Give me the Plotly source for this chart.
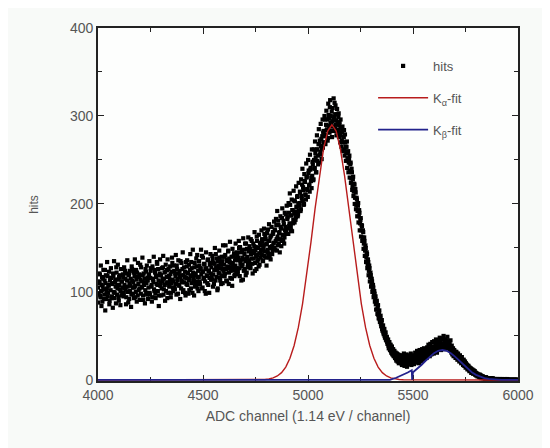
import plotly.graph_objects as go

# ---- data ----
# two interleaved sets of channels: start 4000 and 4001.5, step 3
channel_step = 3
hits_a = [
    105, 98, 112, 120, 94, 101, 108, 89, 115, 103, 97, 125, 110, 92, 104, 118, 99, 107, 86, 113,
    102, 116, 95, 109, 121, 100, 93, 111, 106, 128, 97, 104, 114, 90, 108, 119, 101, 96, 112, 105,
    117, 99, 108, 124, 103, 94, 113, 106, 88, 120, 110, 101, 115, 97, 126, 105, 111, 93, 118, 107,
    100, 114, 122, 96, 109, 117, 104, 131, 98, 112, 106, 119, 91, 108, 115, 102, 123, 110, 97, 113,
    105, 120, 99, 116, 127, 108, 94, 114, 111, 103, 125, 98, 118, 109, 132, 101, 113, 96, 121, 107,
    119, 104, 112, 128, 97, 115, 108, 123, 101, 117, 93, 111, 126, 106, 114, 120, 99, 110, 133, 105,
    112, 124, 103, 118, 109, 130, 115, 98, 121, 107, 117, 135, 104, 113, 126, 100, 119, 111, 123, 96,
    116, 129, 108, 121, 113, 102, 125, 118, 134, 110, 99, 122, 115, 128, 106, 119, 138, 112, 104, 124,
    117, 130, 109, 126, 120, 141, 105, 123, 115, 131, 112, 98, 127, 119, 136, 108, 124, 116, 133, 121,
    128, 114, 137, 120, 109, 132, 125, 143, 117, 126, 104, 130, 121, 139, 113, 127, 119, 135, 110, 124,
    131, 118, 142, 126, 137, 112, 129, 147, 122, 134, 116, 128, 140, 107, 133, 125, 144, 120, 130, 138,
    127, 141, 123, 136, 150, 118, 132, 145, 129, 139, 114, 137, 148, 126, 135, 155, 122, 140, 131, 146,
    136, 149, 127, 143, 158, 132, 145, 138, 152, 124, 147, 140, 163, 135, 150, 129, 144, 156, 139, 148,
    142, 157, 135, 153, 166, 146, 160, 139, 155, 148, 171, 143, 158, 151, 137, 164, 152, 147, 168, 156,
    150, 170, 158, 176, 147, 163, 181, 155, 168, 160, 174, 152, 184, 165, 159, 177, 162, 170, 188, 166,
    172, 185, 166, 190, 178, 199, 174, 187, 169, 193, 182, 204, 179, 191, 185, 197, 208, 186, 200, 192,
    198, 213, 194, 209, 222, 203, 216, 200, 226, 211, 205, 230, 217, 208, 235, 221, 214, 239, 226, 218,
    232, 245, 228, 250, 241, 258, 236, 262, 249, 255, 268, 247, 272, 259, 266, 251, 277, 264, 283, 270,
    279, 268, 290, 284, 296, 275, 301, 288, 310, 292, 283, 305, 294, 288, 320, 299, 286, 312, 295, 302,
    291, 284, 303, 289, 278, 296, 281, 272, 288, 270, 276, 262, 279, 265, 258, 271, 252, 260, 247, 255,
    238, 247, 229, 236, 220, 231, 214, 222, 207, 213, 199, 205, 192, 201, 186, 190, 178, 184, 170, 175,
    162, 168, 155, 158, 147, 150, 139, 143, 131, 134, 124, 127, 117, 119, 110, 112, 104, 105, 97, 98,
    92, 86, 88, 80, 82, 74, 76, 69, 70, 64, 65, 58, 60, 54, 55, 50, 51, 46, 48, 43,
    44, 39, 41, 36, 38, 33, 36, 30, 33, 28, 31, 27, 29, 24, 28, 23, 27, 21, 26, 22,
    25, 19, 24, 21, 27, 18, 23, 20, 26, 17, 22, 25, 19, 24, 21, 28, 18, 23, 20, 26,
    21, 25, 19, 27, 23, 30, 20, 26, 24, 29, 22, 31, 25, 27, 23, 32, 26, 29, 24, 33,
    27, 31, 26, 34, 30, 28, 36, 31, 33, 29, 38, 32, 35, 30, 37, 33, 40, 34, 31, 38,
    38, 42, 35, 40, 45, 37, 41, 39, 46, 36, 40, 43, 38, 44, 37, 41, 39, 36, 42, 38,
    37, 31, 34, 30, 33, 28, 32, 29, 27, 31, 25, 28, 26, 24, 27, 22, 25, 21, 23, 20,
    21, 18, 20, 16, 19, 15, 17, 13, 16, 12, 14, 11, 13, 10, 12, 9, 11, 8, 10, 7,
    8, 6, 7, 5, 6, 4, 6, 3, 5, 4, 3, 4, 2, 3, 3, 2, 3, 1, 2, 2,
    1, 2, 1, 1, 2, 0, 1, 1, 0, 1, 1, 0, 1, 0, 0, 1, 0, 0, 1, 0,
    0, 0, 1, 0, 0, 0, 0, 1, 0, 0, 0, 0, 0, 0, 0, 0, 0, 0, 0, 0,
    0, 0, 0, 0, 0, 0, 0,
]
hits_b = [
    88, 121, 110, 96, 130, 84, 117, 106, 125, 92, 113, 79, 119, 101, 134, 95, 108, 123, 90, 116,
    127, 93, 110, 82, 118, 135, 99, 114, 87, 122, 108, 131, 94, 117, 103, 85, 126, 112, 98, 120,
    95, 128, 104, 115, 86, 121, 136, 100, 119, 92, 124, 107, 83, 129, 113, 98, 122, 105, 137, 94,
    125, 89, 117, 133, 102, 120, 91, 114, 128, 105, 139, 96, 121, 111, 87, 126, 99, 130, 116, 92,
    118, 135, 97, 124, 106, 89, 129, 115, 140, 101, 122, 93, 117, 134, 108, 126, 84, 119, 137, 110,
    96, 127, 115, 141, 103, 122, 90, 131, 110, 125, 137, 99, 118, 108, 129, 94, 123, 139, 114, 101,
    130, 105, 121, 142, 97, 126, 113, 136, 108, 124, 92, 119, 133, 111, 145, 102, 128, 117, 99, 134,
    109, 136, 122, 98, 131, 115, 143, 104, 127, 119, 148, 112, 96, 133, 121, 108, 129, 142, 117, 101,
    135, 112, 127, 148, 104, 123, 139, 116, 132, 101, 126, 145, 118, 110, 137, 124, 99, 131, 143, 114,
    117, 141, 106, 133, 125, 150, 113, 128, 138, 102, 135, 122, 147, 116, 131, 109, 140, 126, 153, 118,
    140, 121, 153, 113, 135, 127, 146, 109, 138, 157, 124, 132, 115, 149, 129, 141, 118, 136, 155, 123,
    145, 120, 139, 158, 127, 151, 136, 113, 147, 131, 161, 124, 143, 155, 119, 138, 149, 128, 162, 133,
    152, 129, 160, 138, 147, 121, 155, 144, 168, 133, 151, 126, 158, 142, 137, 165, 131, 153, 146, 170,
    160, 136, 149, 172, 141, 163, 154, 130, 167, 145, 158, 177, 139, 162, 150, 174, 143, 166, 155, 180,
    171, 148, 183, 160, 192, 153, 176, 167, 145, 186, 172, 158, 195, 164, 181, 155, 190, 174, 168, 198,
    183, 166, 201, 175, 212, 187, 170, 205, 193, 178, 215, 189, 203, 182, 220, 196, 209, 188, 224, 201,
    214, 192, 228, 206, 240, 219, 199, 234, 225, 210, 246, 231, 216, 250, 238, 222, 256, 241, 230, 262,
    248, 227, 262, 240, 271, 253, 236, 278, 262, 245, 285, 268, 256, 291, 274, 262, 296, 281, 270, 300,
    296, 277, 306, 289, 272, 314, 297, 281, 318, 300, 290, 276, 309, 296, 283, 315, 302, 290, 278, 308,
    282, 299, 276, 293, 270, 287, 265, 283, 260, 276, 284, 255, 270, 249, 265, 241, 258, 236, 251, 230,
    245, 224, 240, 216, 228, 209, 223, 200, 217, 194, 207, 186, 198, 179, 193, 170, 182, 163, 176, 158,
    170, 149, 162, 141, 153, 134, 145, 127, 137, 119, 130, 112, 122, 106, 115, 100, 108, 94, 101, 89,
    95, 80, 90, 75, 85, 70, 79, 66, 73, 61, 68, 56, 62, 52, 58, 48, 54, 45, 49, 41,
    46, 36, 43, 34, 40, 31, 38, 29, 35, 27, 33, 25, 31, 22, 30, 21, 29, 19, 28, 20,
    22, 28, 17, 25, 20, 30, 16, 26, 22, 29, 15, 24, 27, 18, 25, 22, 30, 17, 27, 21,
    28, 18, 24, 31, 20, 27, 33, 22, 29, 19, 34, 26, 30, 21, 35, 28, 24, 36, 27, 31,
    34, 25, 37, 29, 40, 32, 27, 41, 35, 30, 43, 36, 31, 44, 38, 33, 46, 37, 42, 35,
    44, 36, 48, 39, 34, 47, 41, 37, 50, 40, 35, 46, 43, 38, 49, 36, 44, 40, 34, 45,
    33, 39, 29, 36, 27, 34, 31, 25, 32, 28, 23, 30, 26, 21, 28, 24, 19, 26, 22, 17,
    23, 16, 21, 14, 18, 17, 12, 15, 14, 10, 13, 12, 8, 11, 9, 7, 10, 8, 6, 8,
    5, 7, 4, 6, 5, 3, 5, 4, 2, 4, 3, 2, 3, 2, 1, 3, 1, 2, 1, 1,
    2, 1, 0, 1, 1, 0, 2, 0, 1, 0, 0, 1, 0, 1, 0, 0, 0, 1, 0, 0,
    0, 1, 0, 0, 0, 0, 0, 0, 0, 1, 0, 0, 0, 0, 0, 0, 0, 0, 0, 0,
    0, 0, 0, 0, 0, 0, 0,
]
channels_a = [4000 + channel_step * i for i in range(len(hits_a))]
channels_b = [4001.5 + channel_step * i for i in range(len(hits_b))]

ka_channels = [4000, 4774, 4794, 4814, 4834, 4854, 4874, 4894, 4914, 4934, 4954, 4974, 4994,
               5014, 5034, 5054, 5074, 5094, 5114, 5134, 5154, 5174, 5194, 5214, 5234,
               5254, 5274, 5294, 5314, 5334, 5354, 5374, 5394, 5414, 5434, 5454, 6000]
ka_fit = [0, 0.2, 0.5, 1.1, 2.3, 4.5, 8.3, 14.6, 24.6, 39.2, 59.7, 86.5, 119.2,
          156.4, 195.3, 232.2, 262.7, 282.9, 290, 282.9, 262.7, 232.2, 195.3, 156.4, 119.2,
          86.5, 59.7, 39.2, 24.6, 14.6, 8.3, 4.5, 2.3, 1.1, 0.5, 0.2, 0]

kb_channels = [4000, 5390, 5420, 5450, 5475, 5494, 5496, 5500, 5520, 5540, 5560, 5580, 5600,
               5620, 5640, 5660, 5680, 5700, 5720, 5740, 5760, 5780, 5800, 5820, 5840,
               5860, 5880, 5900, 5920, 6000]
kb_fit = [0, 0, 2.5, 5.5, 8.5, 11, 0, 8.8, 12.5, 17.0, 21.8, 26.5, 30.4,
          33.1, 34, 33.1, 30.4, 26.5, 21.8, 17.0, 12.5, 8.8, 5.8, 3.6, 2.1,
          1.2, 0.6, 0.3, 0.1, 0]

x_ticks = [4000, 4500, 5000, 5500, 6000]
y_ticks = [0, 100, 200, 300, 400]

FONT = "Liberation Sans, Arial, sans-serif"
TXT = "#555555"

fig = go.Figure()
fig.add_trace(go.Scatter(
    x=channels_a + channels_b, y=hits_a + hits_b, mode="markers", name="hits",
    marker=dict(symbol="square", size=4.2, color="black", line=dict(width=0)),
    legendgroup="a",
))
fig.add_trace(go.Scatter(
    x=ka_channels, y=ka_fit, mode="lines", name="K<sub>α</sub>-fit",
    line=dict(color="#b81c1c", width=1.4), legendgroup="b",
))
fig.add_trace(go.Scatter(
    x=kb_channels, y=kb_fit, mode="lines", name="K<sub>β</sub>-fit",
    line=dict(color="#22228c", width=1.8), legendgroup="c",
))

axis_common = dict(
    showline=True, linecolor="#222222", linewidth=1.6, mirror="ticks",
    ticks="inside", tickcolor="#222222", tickwidth=1.2, ticklen=6,
    showgrid=False, zeroline=False, layer="below traces",
    tickfont=dict(family=FONT, size=14, color=TXT),
)

fig.update_layout(
    width=542, height=440,
    margin=dict(l=90, r=32, t=20, b=67),
    paper_bgcolor="#f8faf8", plot_bgcolor="#fdfefd",
    font=dict(family=FONT, color=TXT),
    showlegend=True,
    legend=dict(
        x=0.655, y=0.935, xanchor="left", yanchor="top",
        bgcolor="rgba(0,0,0,0)", borderwidth=0,
        font=dict(family=FONT, size=13, color=TXT),
        tracegroupgap=12, itemwidth=50,
    ),
    xaxis=dict(
        range=[4000, 6000], tickvals=x_ticks, ticktext=[str(v) for v in x_ticks],
        minor=dict(dtick=250, ticks="inside", ticklen=4, tickcolor="#222222", tickwidth=1.2),
        title=dict(text="ADC channel (1.14 eV / channel)", font=dict(family=FONT, size=14, color=TXT), standoff=10),
        **axis_common,
    ),
    yaxis=dict(
        range=[-1.2, 400], tickvals=y_ticks, ticktext=[str(v) for v in y_ticks],
        minor=dict(dtick=50, ticks="inside", ticklen=4, tickcolor="#222222", tickwidth=1.2),
        title=dict(text="hits", font=dict(family=FONT, size=12, color=TXT), standoff=29),
        **axis_common,
    ),
)

fig.write_html("out.html")
